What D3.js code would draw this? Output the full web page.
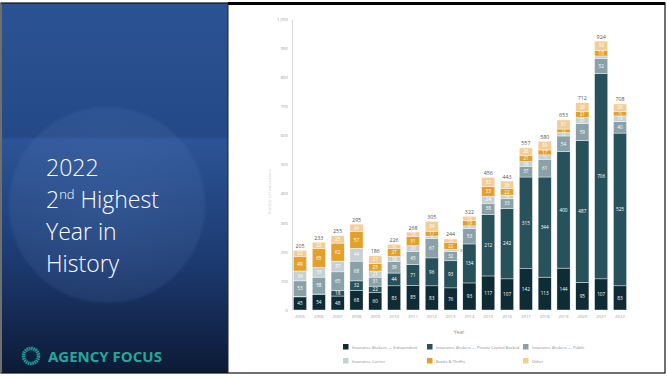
<!DOCTYPE html>
<html>
<head>
<meta charset="utf-8">
<script src="https://cdn.jsdelivr.net/npm/d3@7/dist/d3.min.js"></script>
<style>
  html, body { margin: 0; padding: 0; background: #ffffff; }
  svg { display: block; }
</style>
</head>
<body>
<svg id="slide" width="667" height="378"></svg>
<script>
// Deals by buyer type, 2005–2022
const years = ["2005","2006","2007","2008","2009","2010","2011","2012","2013","2014","2015","2016","2017","2018","2019","2020","2021","2022"];
const independent    = [45, 54, 48, 68, 60, 83, 85, 83, 76, 93, 117, 107, 142, 113, 144, 95, 107, 83];
const privateCapital = [2, 1, 18, 32, 22, 44, 71, 96, 93, 134, 212, 242, 315, 344, 400, 487, 706, 525];
const publicBrokers  = [53, 58, 65, 68, 31, 39, 45, 67, 32, 53, 38, 33, 37, 61, 54, 59, 52, 40];
const carrier        = [34, 33, 37, 44, 21, 18, 20, 8, 8, 9, 24, 13, 16, 15, 12, 21, 8, 19];
const banks          = [49, 65, 62, 57, 25, 27, 31, 17, 22, 19, 33, 22, 21, 17, 12, 21, 19, 15];
const other          = [22, 22, 25, 26, 27, 15, 16, 34, 13, 14, 32, 26, 26, 30, 31, 29, 32, 26];
const seriesNames = [
  "Insurance Brokers \u2014 Independent",
  "Insurance Brokers \u2014 Private Capital Backed",
  "Insurance Brokers \u2014 Public",
  "Insurance Carrier",
  "Banks & Thrifts",
  "Other"
];
const yTicks = [0, 100, 200, 300, 400, 500, 600, 700, 800, 900, 1000];

const colors = ["#0e2c36", "#27525b", "#8aa2a7", "#c7d1d4", "#e3a12c", "#f3cd98"];
const keys = ["independent", "privateCapital", "publicBrokers", "carrier", "banks", "other"];
const seriesArrays = [independent, privateCapital, publicBrokers, carrier, banks, other];

const rows = years.map((y, i) => {
  const r = { year: y };
  keys.forEach((k, j) => r[k] = seriesArrays[j][i]);
  return r;
});

const svg = d3.select("#slide");
const defs = svg.append("defs");

// ---- left title panel ----
const grad = defs.append("linearGradient").attr("id", "panelGrad")
  .attr("x1", 0).attr("y1", 0).attr("x2", 0).attr("y2", 1);
grad.append("stop").attr("offset", "0%").attr("stop-color", "#2b5393");
grad.append("stop").attr("offset", "36%").attr("stop-color", "#254987");
grad.append("stop").attr("offset", "37%").attr("stop-color", "#2c5496");
grad.append("stop").attr("offset", "70%").attr("stop-color", "#1c3a70");
grad.append("stop").attr("offset", "100%").attr("stop-color", "#0c1a36");

const glow = defs.append("radialGradient").attr("id", "glow");
glow.append("stop").attr("offset", "0%").attr("stop-color", "#6f93d0").attr("stop-opacity", 0.2);
glow.append("stop").attr("offset", "96%").attr("stop-color", "#6f93d0").attr("stop-opacity", 0.12);
glow.append("stop").attr("offset", "100%").attr("stop-color", "#6f93d0").attr("stop-opacity", 0);

svg.append("rect").attr("x", 0).attr("y", 0).attr("width", 667).attr("height", 378).attr("fill", "#ffffff");
svg.append("rect").attr("x", 2).attr("y", 3).attr("width", 226).attr("height", 370).attr("fill", "url(#panelGrad)");
svg.append("circle").attr("cx", 107).attr("cy", 205).attr("r", 100).attr("fill", "url(#glow)");

const title = svg.append("g").attr("font-family", "'Open Sans', Lato, sans-serif")
  .attr("font-weight", 300).attr("fill", "#ffffff").attr("font-size", 23);
title.append("text").attr("x", 46).attr("y", 176).text("2022");
const t2 = title.append("text").attr("x", 46).attr("y", 208);
t2.append("tspan").text("2");
t2.append("tspan").attr("dy", -9).attr("font-size", 13).text("nd");
t2.append("tspan").attr("dy", 9).text(" Highest");
title.append("text").attr("x", 46).attr("y", 240).text("Year in");
title.append("text").attr("x", 46).attr("y", 272).text("History");

// logo
const logo = svg.append("g");
logo.append("circle").attr("cx", 31).attr("cy", 356).attr("r", 7.5)
  .attr("fill", "none").attr("stroke", "#1f9c93").attr("stroke-width", 3.5)
  .attr("stroke-dasharray", "1.6 0.6");
logo.append("text").attr("x", 48).attr("y", 362)
  .attr("font-family", "'Open Sans', Roboto, sans-serif").attr("font-weight", 700)
  .attr("font-size", 15).attr("fill", "#22a99a").text("AGENCY FOCUS");

// frame
svg.append("rect").attr("x", 1).attr("y", 3).attr("width", 664).attr("height", 370)
  .attr("fill", "none").attr("stroke", "#111").attr("stroke-width", 1.2);
svg.append("line").attr("x1", 228).attr("x2", 665).attr("y1", 3.5).attr("y2", 3.5)
  .attr("stroke", "#000").attr("stroke-width", 3);
svg.append("line").attr("x1", 228).attr("x2", 228).attr("y1", 3).attr("y2", 373)
  .attr("stroke", "#222").attr("stroke-width", 1);

// ---- chart ----
const x = d3.scaleBand().domain(years).range([290.6, 629.4]).paddingInner(0.3).paddingOuter(0.15);
const y = d3.scaleLinear().domain([0, 1000]).range([310, 19]);

const chart = svg.append("g").attr("font-family", "'Open Sans', sans-serif");

// y axis
const yAxis = chart.append("g").attr("transform", "translate(292,0)")
  .call(d3.axisLeft(y).tickValues(yTicks).tickSize(0).tickPadding(4).tickFormat(d3.format(",")));
yAxis.select(".domain").attr("stroke", "#d9d9d9").attr("stroke-width", 1);
yAxis.selectAll("text").attr("font-size", 4.3).attr("fill", "#9a9a9a").attr("font-family", "'Open Sans', sans-serif");

// faint y-axis title
chart.append("text").attr("transform", "translate(271,192) rotate(-90)")
  .attr("text-anchor", "middle").attr("font-size", 4).attr("fill", "#d0d0d0")
  .text("Number of Transactions");

// x axis
const xAxis = chart.append("g").attr("transform", "translate(0,310)")
  .call(d3.axisBottom(x).tickSize(0).tickPadding(5));
xAxis.select(".domain").remove();
xAxis.selectAll("text").attr("font-size", 4.3).attr("fill", "#9a9a9a").attr("font-family", "'Open Sans', sans-serif");

chart.append("text").attr("x", 459).attr("y", 334).attr("text-anchor", "middle")
  .attr("font-size", 5).attr("fill", "#8a8a8a").text("Year");

// stacked bars
const stacked = d3.stack().keys(keys)(rows);
const layers = chart.append("g").selectAll("g").data(stacked).join("g")
  .attr("fill", (d, i) => colors[i]);
layers.selectAll("rect").data(d => d).join("rect")
  .attr("x", d => x(d.data.year))
  .attr("width", x.bandwidth())
  .attr("y", d => y(d[1]))
  .attr("height", d => y(d[0]) - y(d[1]))
  .attr("stroke", "#ffffff").attr("stroke-width", 0.4);

// segment value labels (thin segments get a smaller font)
const labels = chart.append("g").attr("text-anchor", "middle").attr("fill", "#ffffff");
stacked.forEach((layer) => {
  layer.forEach(d => {
    const v = d[1] - d[0];
    const yr = d.data.year;
    const cx = x(yr) + x.bandwidth() / 2;
    const cy = (y(d[0]) + y(d[1])) / 2;
    const h = y(d[0]) - y(d[1]);
    const fs = h < 3 ? 2.8 : h < 4.6 ? 3.6 : 4.7;
    if (layer.key === "carrier" && v < 9 && yr !== "2012") {
      if (yr === "2013") {
        chart.append("line").attr("x1", x(yr) + x.bandwidth()).attr("x2", x(yr) + x.bandwidth() + 2.5)
          .attr("y1", cy).attr("y2", cy).attr("stroke", "#9a9a9a").attr("stroke-width", 0.4);
        chart.append("text").attr("x", x(yr) + x.bandwidth() + 3).attr("y", cy + 1.4)
          .attr("font-size", 3.8).attr("fill", "#7a7a7a").text(v);
      }
      return;
    }
    if (v < 8) return;
    labels.append("text").attr("x", cx).attr("y", cy + fs * 0.36).attr("font-size", fs).text(v);
  });
});

// totals
chart.append("g").selectAll("text").data(rows).join("text")
  .attr("x", d => x(d.year) + x.bandwidth() / 2)
  .attr("y", d => y(d3.sum(keys, k => d[k])) - 2.5)
  .attr("text-anchor", "middle").attr("font-size", 5.3).attr("fill", "#555555")
  .text(d => d3.sum(keys, k => d[k]));

// legend
const legendPos = [[343, 347], [427, 347], [523, 347], [343, 361], [427, 361], [523, 361]];
const legend = chart.append("g").selectAll("g").data(seriesNames).join("g")
  .attr("transform", (d, i) => `translate(${legendPos[i][0]},${legendPos[i][1]})`);
legend.append("rect").attr("x", 0).attr("y", -3).attr("width", 5.5).attr("height", 5.5)
  .attr("fill", (d, i) => colors[i]);
legend.append("text").attr("x", 9).attr("y", 1.6).attr("font-size", 4.1)
  .attr("fill", "#8a8a8a").text(d => d);
</script>
</body>
</html>
